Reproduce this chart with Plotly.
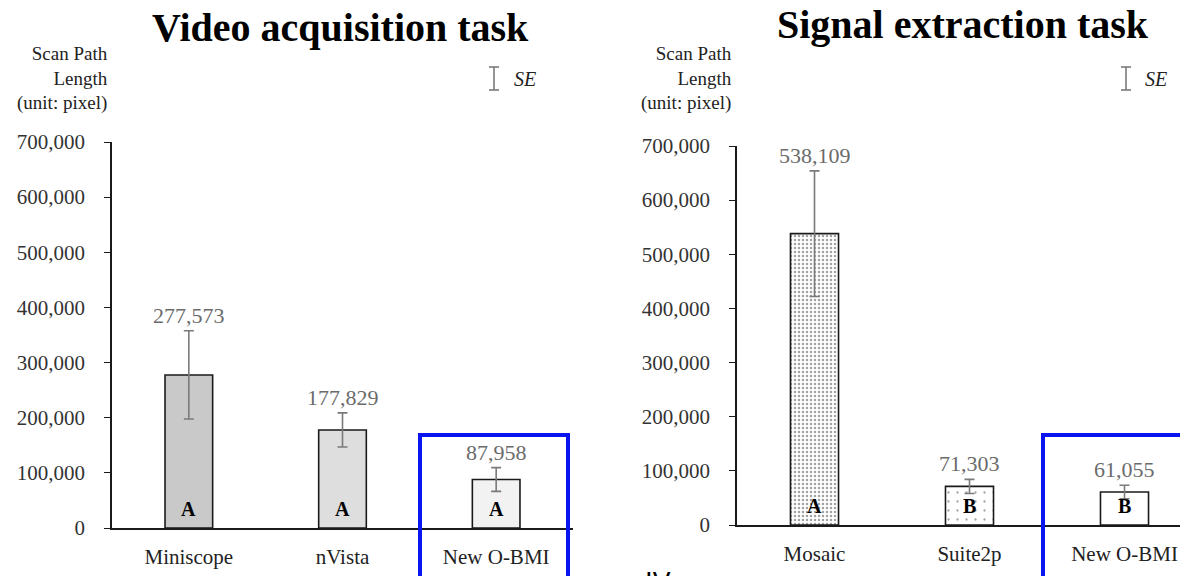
import plotly.graph_objects as go

W, H = 1188, 576

# ---- data ----
video_cats = ["Miniscope", "nVista", "New O-BMI"]
video_vals = [277573, 177829, 87958]
video_se = [80000, 31000, 21500]
video_letters = ["A", "A", "A"]

signal_cats = ["Mosaic", "Suite2p", "New O-BMI"]
signal_vals = [538109, 71303, 61055]
signal_se = [116000, 13000, 12500]
signal_letters = ["A", "B", "B"]

y_ticks = [0, 100000, 200000, 300000, 400000, 500000, 600000, 700000]

SERIF = "Liberation Serif, Times New Roman, serif"
OFF = 8  # page body margin offset

def px_x(p):
    return (p - OFF) / W

def px_y(p):
    return 1 - (p - OFF) / H

fig = go.Figure()

video_colors = ["#c9c9c9", "#dedede", "#f2f2f2"]
fig.add_trace(go.Bar(
    x=video_cats, y=video_vals, xaxis="x", yaxis="y",
    width=0.31,
    marker=dict(color=video_colors, line=dict(color="#1a1a1a", width=1.6)),
    error_y=dict(type="data", array=video_se, visible=True,
                 color="#7a7a7a", thickness=1.6, width=5),
    showlegend=False, hoverinfo="skip",
))

fig.add_trace(go.Bar(
    x=signal_cats, y=signal_vals, xaxis="x2", yaxis="y2",
    width=0.31,
    marker=dict(
        color=["white", "white", "white"],
        line=dict(color="#1a1a1a", width=1.6),
        pattern=dict(shape=[".", ".", ""], size=[4, 9, 8],
                     solidity=[0.3, 0.05, 0.1],
                     fgcolor="#555555", bgcolor="white",
                     fillmode="overlay"),
    ),
    error_y=dict(type="data", array=signal_se, visible=True,
                 color="#7a7a7a", thickness=1.6, width=5),
    showlegend=False, hoverinfo="skip",
))

annotations = []
for xa, ya, cats, vals, ses, letters in [
    ("x", "y", video_cats, video_vals, video_se, video_letters),
    ("x2", "y2", signal_cats, signal_vals, signal_se, signal_letters),
]:
    for c, v, s, l in zip(cats, vals, ses, letters):
        annotations.append(dict(
            x=c, y=v + s, xref=xa, yref=ya, text=f"{v:,}",
            showarrow=False, xanchor="center", yanchor="bottom", yshift=1,
            font=dict(family=SERIF, size=22, color="#6b6b6b")))
        annotations.append(dict(
            x=c, y=0, xref=xa, yref=ya, text=f"<b>{l}</b>",
            showarrow=False, xanchor="center", yanchor="bottom", yshift=6,
            font=dict(family=SERIF, size=20, color="black")))

annotations.append(dict(x=px_x(340), y=px_y(27), xref="paper", yref="paper",
                        text="<b>Video acquisition task</b>", showarrow=False,
                        xanchor="center", yanchor="middle",
                        font=dict(family=SERIF, size=40, color="black")))
annotations.append(dict(x=px_x(963), y=px_y(25), xref="paper", yref="paper",
                        text="<b>Signal extraction task</b>", showarrow=False,
                        xanchor="center", yanchor="middle",
                        font=dict(family=SERIF, size=40, color="black")))
for xr in (110, 734):
    annotations.append(dict(x=px_x(xr), y=px_y(78), xref="paper", yref="paper",
                            text="Scan Path<br>Length<br>(unit: pixel)",
                            showarrow=False, xanchor="right", yanchor="middle",
                            align="right",
                            font=dict(family=SERIF, size=19, color="#222")))
for xs in (512, 1143):
    annotations.append(dict(x=px_x(xs), y=px_y(79), xref="paper", yref="paper",
                            text="<i>SE</i>", showarrow=False, xanchor="left",
                            yanchor="middle",
                            font=dict(family=SERIF, size=20, color="#222")))
annotations.append(dict(x=px_x(658), y=px_y(566), xref="paper", yref="paper",
                        text="IV", showarrow=False, xanchor="center", yanchor="top",
                        font=dict(family="DejaVu Sans", size=26, color="black")))

shapes = []
for xb in (494, 1126):
    shapes.append(dict(type="line", xref="paper", yref="paper",
                       x0=px_x(xb), x1=px_x(xb), y0=px_y(67), y1=px_y(90),
                       line=dict(color="#7a7a7a", width=1.6)))
    for yy in (67, 90):
        shapes.append(dict(type="line", xref="paper", yref="paper",
                           x0=px_x(xb - 5), x1=px_x(xb + 5), y0=px_y(yy), y1=px_y(yy),
                           line=dict(color="#7a7a7a", width=1.6)))

BLUE = "#0a14f0"
for x0, x1 in ((420, 568), (1043, 1210)):
    shapes.append(dict(type="path", xref="paper", yref="paper",
                       path=f"M {px_x(x0)} {px_y(600)} L {px_x(x0)} {px_y(435)} "
                            f"L {px_x(x1)} {px_y(435)} L {px_x(x1)} {px_y(600)}",
                       line=dict(color=BLUE, width=4)))

axis_common = dict(showgrid=False, zeroline=False, showline=True,
                   linecolor="#1a1a1a", linewidth=1.5, automargin=False)

fig.update_layout(
    width=W, height=H, autosize=False,
    margin=dict(l=0, r=0, t=0, b=0, pad=0, autoexpand=False),
    paper_bgcolor="white", plot_bgcolor="white",
    showlegend=False,
    xaxis=dict(domain=[px_x(112), px_x(573)], range=[-0.5, 2.5],
               anchor="y", ticks="", ticklabelstandoff=9,
               tickfont=dict(family=SERIF, size=21, color="#222"),
               **axis_common),
    yaxis=dict(domain=[px_y(528), px_y(142)], range=[0, 700000],
               anchor="x", tickvals=y_ticks, tickformat=",",
               ticks="outside", ticklen=6, tickcolor="#1a1a1a",
               ticklabelstandoff=15,
               tickfont=dict(family=SERIF, size=21, color="#333"),
               **axis_common),
    xaxis2=dict(domain=[px_x(737), 1.0], range=[-0.5, -0.5 + 459 / 155],
                anchor="y2", ticks="", ticklabelstandoff=9,
                tickfont=dict(family=SERIF, size=21, color="#222"),
                **axis_common),
    yaxis2=dict(domain=[px_y(525), px_y(146)], range=[0, 700000],
                anchor="x2", tickvals=y_ticks, tickformat=",",
                ticks="outside", ticklen=6, tickcolor="#1a1a1a",
                ticklabelstandoff=15,
                tickfont=dict(family=SERIF, size=21, color="#333"),
                **axis_common),
    annotations=annotations,
    shapes=shapes,
)

fig.write_html("out.html")
